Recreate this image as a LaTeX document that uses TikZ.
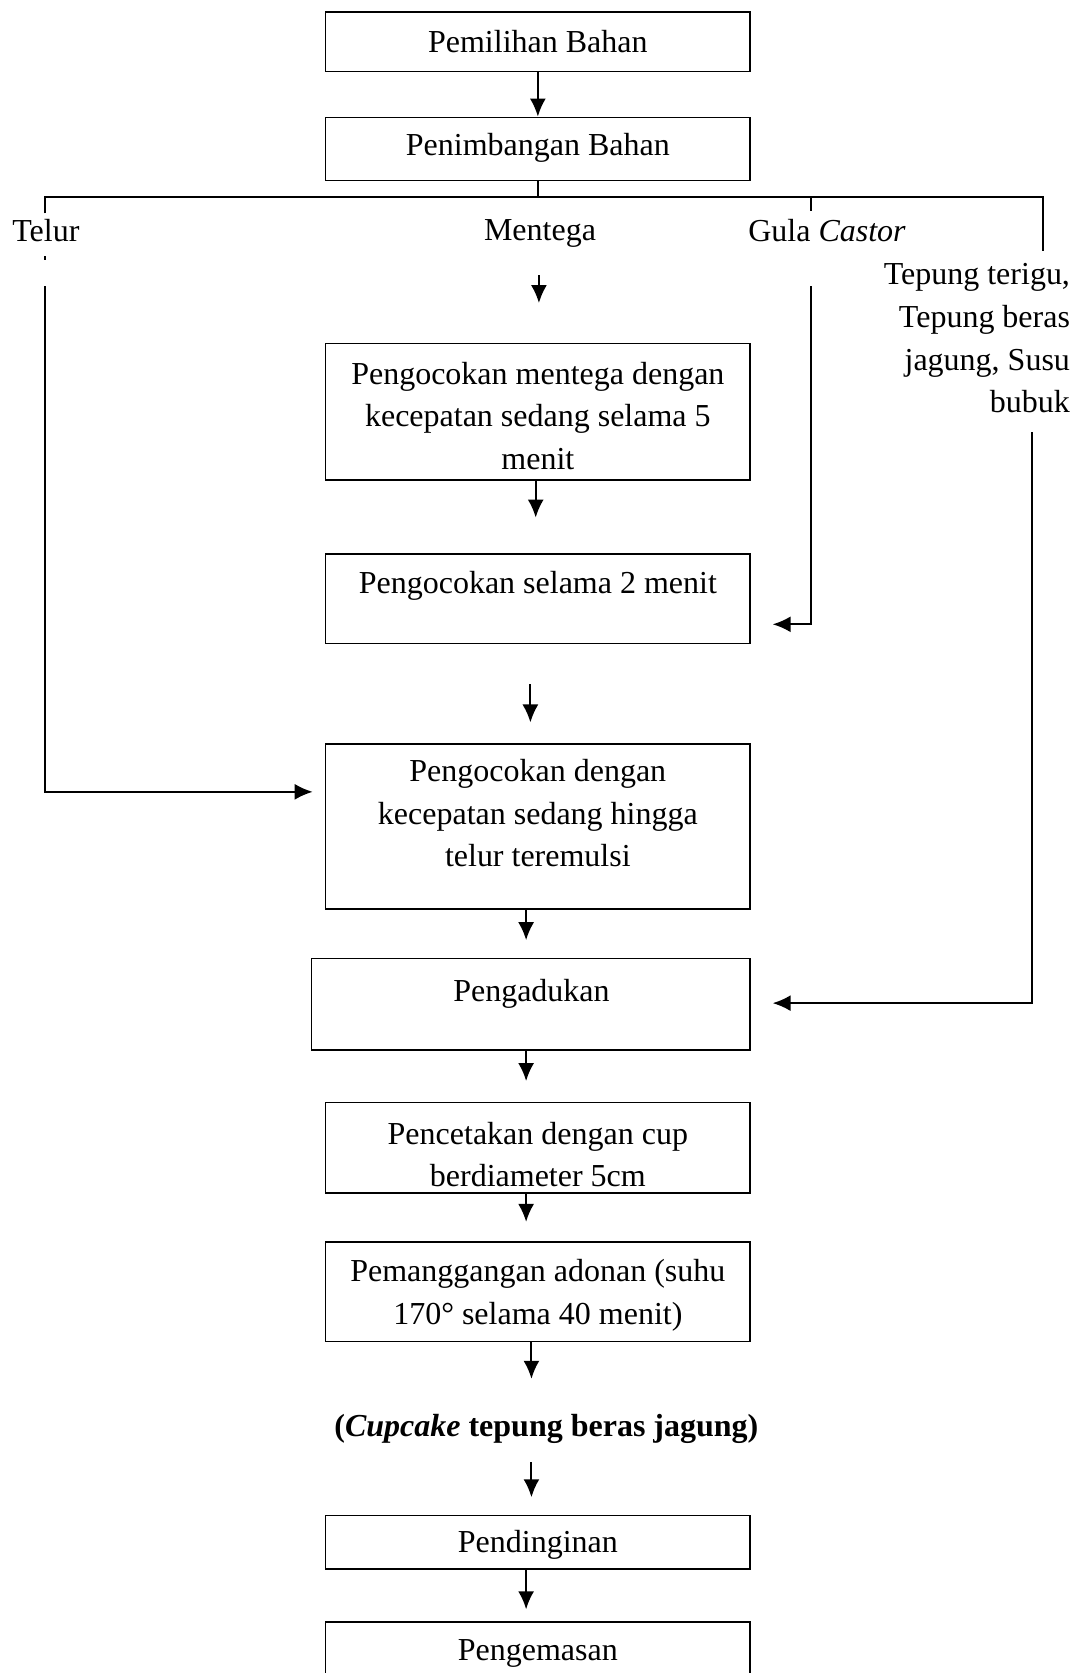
\documentclass[tikz,border=0pt]{standalone}
\usepackage{fontspec}
\setmainfont{Liberation Serif}
\usetikzlibrary{arrows.meta}

\tikzset{
	box/.style={draw, line width=0.8pt, minimum width=212.4pt, inner sep=0pt},
	txt/.style={align=center, inner sep=0pt, font=\fontsize{16}{21.3}\selectfont},
	arr/.style={line width=1pt, -{Latex[length=9pt,width=8pt]}},
	ln/.style={line width=1pt}
}

\begin{document}
\begin{tikzpicture}[x=0.5336pt, y=-0.5336pt]
	\clip (0,0) rectangle (1012,1567.7);
	
	% Boxes
	\node[box, minimum height=29.9pt] (b1) at (504,39) {};
	\node[box, minimum height=31.5pt] (b2) at (504,139.5) {};
	\node[box, minimum height=68.3pt] (b3) at (504,386) {};
	\node[box, minimum height=44.8pt] (b4) at (504,561) {};
	\node[box, minimum height=82.7pt] (b5) at (504,774.5) {};
	\node[box, minimum width=219.3pt, minimum height=45.9pt] (b6) at (497.5,941) {};
	\node[box, minimum height=45.4pt] (b7) at (504,1075.5) {};
	\node[box, minimum height=49.6pt] (b8) at (504,1210.5) {};
	\node[box, minimum height=26.7pt] (b9) at (504,1445) {};
	\node[box, minimum height=42.7pt] (b10) at (504,1560) {};
	
	% Box texts
	\node[txt] (t1) at (504,39) {Pemilihan Bahan};
	\node[txt] (t2) at (504,139) {Penimbangan Bahan};
	\node[txt] (t3) at (504,389.5) {Pengocokan mentega dengan\\kecepatan sedang selama 5\\menit};
	\node[txt] (t4) at (504,549) {Pengocokan selama 2 menit};
	\node[txt] (t5) at (504,762) {Pengocokan dengan\\kecepatan sedang hingga\\telur teremulsi};
	\node[txt] (t6) at (498,931) {Pengadukan};
	\node[txt] (t7) at (504,1082) {Pencetakan dengan cup\\berdiameter 5cm};
	\node[txt] (t8) at (504,1214) {Pemanggangan adonan (suhu\\170\textdegree{} selama 40 menit)};
	\node[txt] (t9) at (504,1448) {Pendinginan};
	\node[txt] (t10) at (504,1549) {Pengemasan};
	\node[txt] (hasil) at (512,1339) {\textbf{(\textit{Cupcake} tepung beras jagung)}};
	
	% Ingredients
	\node[txt] (telur) at (43,216) {Telur};
	\node[txt] (mentega) at (506,219) {Mentega};
	\node[txt] (gula) at (775,216) {Gula \textit{Castor}};
	\node[txt, align=right, anchor=east] (tepung) at (1003,317) {Tepung terigu,\\Tepung beras\\jagung, Susu\\bubuk};
	
	% Branch line
	\coordinate (bl) at (42,185);
	\coordinate (br) at (977,185);
	\draw[ln] (b2.south) -- (b2.south |- bl);
	\draw[ln] (42,200) -- (bl) -- (br) -- (977,235);
	\draw[ln] (760,185) -- (760,198);
	\draw[ln] (42,240) -- (42,244);
	
	% Side inputs
	\coordinate (e5) at (293,742);
	\coordinate (e4) at (724,585);
	\coordinate (e6) at (724,940);
	\draw[arr] (42,268) |- (e5);
	\draw[arr] (760,268) |- (e4);
	\draw[arr] (967,405) |- (e6);
	
	% Main flow
	\coordinate (m1) at (505,258);
	\coordinate (m2) at (505,284);
	\coordinate (a3) at (502,485);
	\coordinate (s4) at (497,641);
	\coordinate (a4) at (497,677);
	\coordinate (a5) at (493,881);
	\coordinate (a6) at (493,1013);
	\coordinate (a7) at (493,1145);
	\coordinate (a8) at (498,1292);
	\coordinate (s9) at (498,1370);
	\coordinate (a9) at (498,1403);
	\coordinate (a10) at (493,1508);
	
	\draw[arr] (b1.south) -- (b2.north);
	\draw[arr] (m1) -- (m2);
	\draw[arr] (b3.south -| a3) -- (a3);
	\draw[arr] (s4) -- (a4);
	\draw[arr] (b5.south -| a5) -- (a5);
	\draw[arr] (b6.south -| a6) -- (a6);
	\draw[arr] (b7.south -| a7) -- (a7);
	\draw[arr] (b8.south -| a8) -- (a8);
	\draw[arr] (s9) -- (a9);
	\draw[arr] (b9.south -| a10) -- (a10);
	
\end{tikzpicture}
\end{document}
